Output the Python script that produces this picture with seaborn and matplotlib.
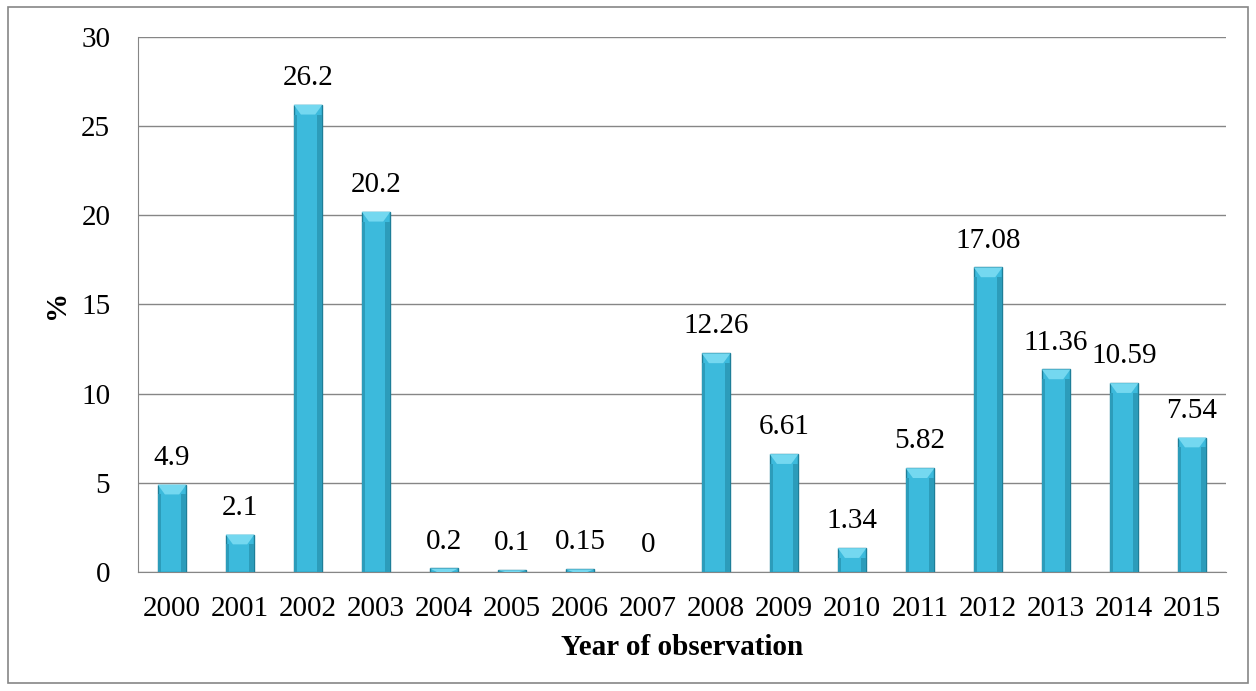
import matplotlib
matplotlib.use('Agg')
import matplotlib.pyplot as plt
import matplotlib.patches as mpatches
import seaborn as sns
import pandas as pd

# ── Data ──────────────────────────────────────────────────────────────────────
years = ["2000", "2001", "2002", "2003", "2004", "2005", "2006", "2007",
         "2008", "2009", "2010", "2011", "2012", "2013", "2014", "2015"]
values = [4.9, 2.1, 26.2, 20.2, 0.2, 0.1, 0.15, 0,
          12.26, 6.61, 1.34, 5.82, 17.08, 11.36, 10.59, 7.54]
labels = ["4.9", "2.1", "26.2", "20.2", "0.2", "0.1", "0.15", "0",
          "12.26", "6.61", "1.34", "5.82", "17.08", "11.36", "10.59", "7.54"]

df = pd.DataFrame({"year": years, "value": values})

sns.set_style("white")
plt.rcParams['font.family'] = ['Liberation Serif', 'DejaVu Serif']
plt.rcParams['text.color'] = 'black'
plt.rcParams['axes.labelcolor'] = 'black'
plt.rcParams['xtick.color'] = 'black'
plt.rcParams['ytick.color'] = 'black'

fig = plt.figure(figsize=(12.56, 6.91), dpi=100)
ax = fig.add_axes([0.1099, 0.1722, 0.8663, 0.7743])

sns.barplot(data=df, x="year", y="value", ax=ax, color="#3CBADC",
            width=0.42, edgecolor="#1E7E98", linewidth=1.0, saturation=1, zorder=3)

# bevel effect: lighter strip on top, darker side shading
for bar in ax.patches:
    x, w, h = bar.get_x(), bar.get_width(), bar.get_height()
    if h <= 0:
        bar.set_linewidth(0)   # empty year: no visible bar
        continue
    cap = min(0.55, h)
    ax.add_patch(mpatches.Polygon([(x, h), (x + w, h), (x + w * 0.75, h - cap),
                                   (x + w * 0.25, h - cap)], closed=True,
                                  facecolor="#74D8F0", edgecolor="none", zorder=4))
    ax.add_patch(mpatches.Rectangle((x + w * 0.8, 0), w * 0.2, h - cap,
                                    facecolor="#2C9CBA", edgecolor="none", zorder=4))
    ax.add_patch(mpatches.Rectangle((x, 0), w * 0.12, h - cap,
                                    facecolor="#2C9CBA", edgecolor="none", zorder=4))

# value labels
for bar, lab in zip(ax.patches[:len(labels)], labels):
    ax.annotate(lab, (bar.get_x() + bar.get_width() / 2, bar.get_height()),
                xytext=(0, 10), textcoords="offset points", ha="center",
                va="bottom", fontsize=21, zorder=5)

ax.set_ylim(0, 30)
ax.set_yticks(range(0, 31, 5))
ax.set_xlim(-0.5, len(years) - 0.5)
ax.yaxis.grid(True, color="#868686", linewidth=1.0, zorder=0)
ax.set_axisbelow(True)
for s in ["top", "right"]:
    ax.spines[s].set_visible(False)
ax.spines["left"].set_color("#868686")
ax.spines["bottom"].set_color("#868686")
ax.tick_params(axis="both", labelsize=21, length=0)
ax.tick_params(axis="y", pad=20)
ax.tick_params(axis="x", pad=17)

ax.set_xlabel("Year of observation", fontsize=21, fontweight="bold", labelpad=9)
ax.set_ylabel("%", fontsize=21, fontweight="bold", labelpad=8)

# outer border
fig.add_artist(mpatches.Rectangle((8 / 1256, 8 / 691), 1240 / 1256, 676 / 691,
                                  transform=fig.transFigure, fill=False,
                                  edgecolor="#868686", linewidth=1.2))

fig.savefig("out.png", dpi=100)
